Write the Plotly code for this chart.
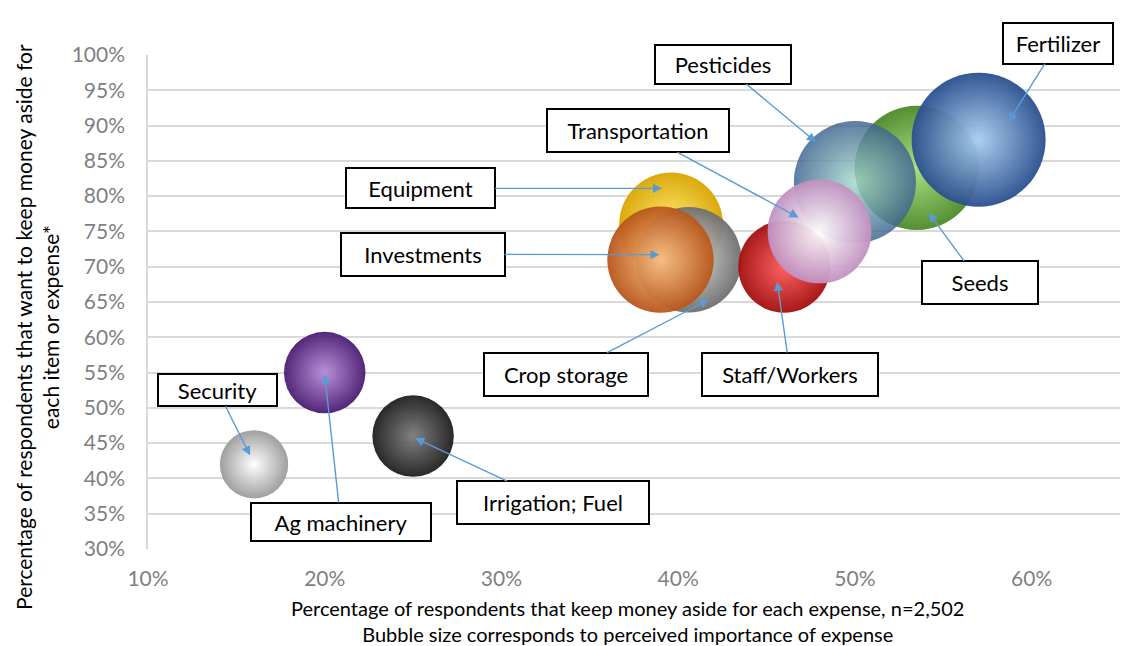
import math
import plotly.graph_objects as go

# ---------------- data ----------------
items = ["Security", "Ag machinery", "Irrigation; Fuel", "Equipment", "Crop storage",
         "Investments", "Staff/Workers", "Seeds", "Pesticides", "Transportation", "Fertilizer"]
keep_aside = [16, 20, 25, 39.6, 40.6, 39, 46, 53.5, 50, 48, 57]        # x, %
want_keep = [42, 55, 46, 76, 71, 71, 70, 84, 82, 75, 88]              # y, %
importance = [26, 37, 37, 60, 62, 63, 47, 86, 83, 60, 100]            # bubble size

y_ticks = list(range(30, 101, 5))
x_ticks = list(range(10, 61, 10))

# ---------------- styles ----------------
edge_colors = ["#9a9a9a", "#4b1c72", "#1e1e1e", "#d9a400", "#6e6e6e", "#b8561a",
               "#a30d0d", "#4a8a26", "#3f6590", "#c090c0", "#2a4f8f"]
center_colors = ["#ffffff", "#b58ad6", "#7a7a7a", "#ffe866", "#dcdcdc", "#fbbf80",
                 "#ff5a5a", "#a8dc7e", "#a6d8cc", "#ffffff", "#a8cdf0"]
opacities = [0.95, 0.95, 0.95, 0.95, 0.95, 0.95, 0.95, 0.95, 0.84, 0.95, 0.95]
max_diam = 134
diam = [max_diam * math.sqrt(v / max(importance)) for v in importance]

# label layout: arrow-tip shift from bubble centre (px), box offset from tip (px), box size
lab_layout = {
    "Security":        dict(sh=(-4, -9),   off=(-32.5, -65),  box=(121, 34)),
    "Ag machinery":    dict(sh=(0, 2),     off=(16, 147),     box=(182, 40)),
    "Irrigation; Fuel": dict(sh=(2, 2),    off=(138, 64.5),   box=(194, 45)),
    "Equipment":       dict(sh=(-9, -36),  off=(-241.5, 0),   box=(151, 42)),
    "Crop storage":    dict(sh=(20, 40),   off=(-143, 74.5),  box=(166, 45)),
    "Investments":     dict(sh=(-1, -5),   off=(-237, -0.5),  box=(166, 45)),
    "Staff/Workers":   dict(sh=(-7, 15),   off=(13, 92.5),    box=(178, 45)),
    "Seeds":           dict(sh=(12, 45),   off=(51, 69.5),    box=(118, 45)),
    "Pesticides":      dict(sh=(-39, -40), off=(-93, -77.5),  box=(138, 41)),
    "Transportation":  dict(sh=(-21, -14), off=(-161, -86.5), box=(184, 45)),
    "Fertilizer":      dict(sh=(30, -18),  off=(49, -78.5),   box=(112, 43)),
}

FONT = "Lato, 'Open Sans', sans-serif"

fig = go.Figure()
fig.add_trace(go.Scatter(
    x=[v / 100 for v in keep_aside],
    y=[v / 100 for v in want_keep],
    mode="markers",
    text=items,
    hoverinfo="text",
    marker=dict(
        size=diam,
        sizemode="diameter",
        color=edge_colors,
        opacity=opacities,
        line=dict(width=0),
        gradient=dict(type="radial", color=center_colors),
    ),
    cliponaxis=False,
    showlegend=False,
))

annotations = []
for name, xv, yv in zip(items, keep_aside, want_keep):
    L = lab_layout[name]
    bw = 2
    annotations.append(dict(
        x=xv / 100, y=yv / 100, xref="x", yref="y",
        xshift=L["sh"][0], yshift=-L["sh"][1],
        ax=L["off"][0], ay=L["off"][1], axref="pixel", ayref="pixel",
        text=name, showarrow=True,
        arrowhead=2, arrowsize=1.3, arrowwidth=1.4, arrowcolor="#5B9BD5",
        standoff=0, startstandoff=0,
        bordercolor="#000000", borderwidth=bw, borderpad=0,
        bgcolor="#ffffff",
        width=L["box"][0] - 2 * bw, height=L["box"][1] - 2 * bw,
        align="center", valign="middle",
        xanchor="center", yanchor="middle",
        font=dict(family=FONT, size=22, color="#000000"),
    ))

# axis titles
annotations.append(dict(
    text="Percentage of respondents that want to keep money aside for<br>each item or expense*",
    xref="paper", yref="paper", x=-0.115, y=0.45, xanchor="center", yanchor="middle",
    textangle=-90, showarrow=False,
    font=dict(family=FONT, size=21, color="#000000"),
))
annotations.append(dict(
    text="Percentage of respondents that keep money aside for each expense, n=2,502<br>"
         "Bubble size corresponds to perceived importance of expense",
    xref="paper", yref="paper", x=0.493, y=-0.092, xanchor="center", yanchor="top",
    showarrow=False,
    font=dict(family=FONT, size=20, color="#000000"),
))

fig.update_layout(
    width=1131, height=646,
    margin=dict(l=148, r=11, t=55, b=97),
    paper_bgcolor="#ffffff", plot_bgcolor="#ffffff",
    font=dict(family=FONT),
    annotations=annotations,
    xaxis=dict(
        range=[0.10, 0.65],
        tickvals=[v / 100 for v in x_ticks],
        ticktext=[f"{v}%" for v in x_ticks],
        showgrid=False, zeroline=False, showline=False,
        ticks="", ticklabelstandoff=15, automargin=False,
        tickfont=dict(family=FONT, size=21, color="#7f7f7f"),
    ),
    yaxis=dict(
        range=[0.30, 1.00],
        tickvals=[v / 100 for v in y_ticks],
        ticktext=[f"{v}%" for v in y_ticks],
        showgrid=True, gridcolor="#d9d9d9", gridwidth=1.5,
        zeroline=False, showline=True, linecolor="#d9d9d9", linewidth=1.5,
        ticks="", ticklabelstandoff=17, automargin=False,
        tickfont=dict(family=FONT, size=21, color="#7f7f7f"),
    ),
)

fig.write_html("out.html", post_script="document.body.style.margin='0';",
               config={"displayModeBar": False})
